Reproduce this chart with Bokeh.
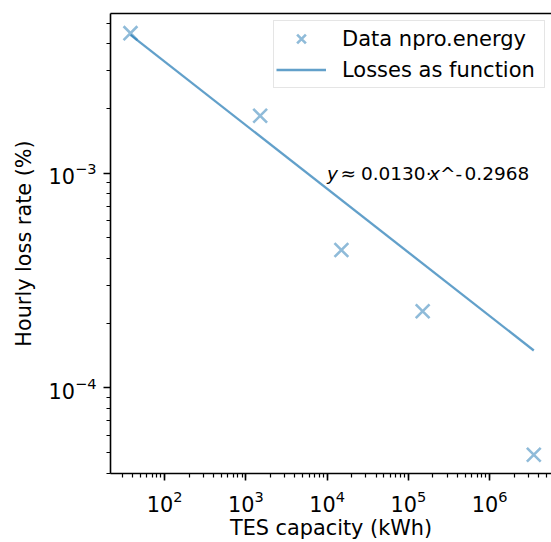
from bokeh.plotting import figure
from bokeh.models import (ColumnDataSource, Range1d, LogAxis, LogTicker, FixedTicker,
                          Label, Legend, LegendItem)
from bokeh.embed import file_html
from bokeh.resources import INLINE

# ---- data ----
capacity_kwh = [38, 1500, 15000, 150000, 3500000]
loss_rate = [4.49e-3, 1.85e-3, 4.38e-4, 2.27e-4, 4.87e-5]

# fitted power law  y ~ 0.0130 * x^-0.2968 (straight line on log-log, end points)
fit_x = [38, 3500000]
fit_y = [4.41e-3, 1.49e-4]

series_labels = ["Data npro.energy", "Losses as function"]
x_title = "TES capacity (kWh)"
y_title = "Hourly loss rate (%)"
fit_text_parts = ["y", "\u2248", "0.0130\u00b7", "x", "^", "-", "0.2968"]

C0 = "#1f77b4"
FONT = "DejaVu Sans"
BLACK = "#000000"

X_LO, X_HI = 1.334, 6.762
Y_LO, Y_HI = -4.400, -2.256

p = figure(width=551, height=542, x_axis_type="log", y_axis_type="log",
           x_range=Range1d(10 ** X_LO, 10 ** X_HI),
           y_range=Range1d(10 ** Y_LO, 10 ** Y_HI),
           output_backend="svg", toolbar_location=None,
           min_border_left=110, min_border_right=0,
           min_border_top=13, min_border_bottom=63)
p.outline_line_color = None
p.grid.visible = False
p.background_fill_color = "white"
p.border_fill_color = "white"

pts = ColumnDataSource(dict(x=capacity_kwh, y=loss_rate))
fit = ColumnDataSource(dict(x=fit_x, y=fit_y))

ln = p.line("x", "y", source=fit, line_color=C0, line_alpha=0.7, line_width=2.3)
sc = p.scatter("x", "y", source=pts, marker="x", size=19.5, line_color=C0,
               line_alpha=0.5, line_width=2.6)

for ax in (p.xaxis[0], p.yaxis[0]):
    ax.ticker = LogTicker(num_minor_ticks=10)
    ax.axis_line_width = 1.6
    ax.axis_line_color = BLACK
    ax.major_tick_line_width = 1.6
    ax.minor_tick_line_width = 1.2
    ax.major_tick_line_color = BLACK
    ax.minor_tick_line_color = BLACK
    ax.major_tick_in = 0
    ax.minor_tick_in = 0
    ax.major_tick_out = 7
    ax.minor_tick_out = 4
    ax.major_label_standoff = 7
    ax.major_label_text_font = FONT
    ax.major_label_text_font_size = "20.8px"
    ax.major_label_text_color = BLACK
    ax.axis_label_text_font = FONT
    ax.axis_label_text_font_size = "20.8px"
    ax.axis_label_text_font_style = "normal"
    ax.axis_label_text_color = BLACK

p.yaxis[0].axis_label = y_title
p.yaxis[0].axis_label_standoff = 10
p.xaxis[0].axis_label = x_title
p.xaxis[0].major_label_standoff = 9
p.xaxis[0].axis_label_standoff = 1

# top spine (no right spine is visible in the reference)
top = LogAxis(ticker=FixedTicker(ticks=[]), axis_line_width=1.6, axis_line_color=BLACK,
              major_tick_out=0, minor_tick_out=0, major_label_standoff=0,
              major_label_text_font_size="0px")
p.add_layout(top, "above")

legend = Legend(items=[LegendItem(label=series_labels[0], renderers=[sc]),
                       LegendItem(label=series_labels[1], renderers=[ln])],
                location=(163, 385),
                label_text_font=FONT, label_text_font_size="21px",
                label_text_color=BLACK,
                glyph_width=50, glyph_height=31, label_height=31, label_width=200,
                label_standoff=16, spacing=0, padding=2, margin=0,
                border_line_color="#cccccc", border_line_width=1.5,
                background_fill_color="white", background_fill_alpha=0.8)
p.add_layout(legend)

offsets = [0, 13.3, 33.8, 102, 113, 128.5, 137.5]
styles = ["italic", "normal", "normal", "italic", "normal", "normal", "normal"]
for txt, off, st in zip(fit_text_parts, offsets, styles):
    p.add_layout(Label(x=1e4, y=1e-3, text=txt, x_offset=off,
                       text_font=FONT, text_font_size="18.5px",
                       text_font_style=st, text_color=BLACK,
                       text_baseline="alphabetic", text_align="left"))

open("out.html", "w").write(file_html(p, INLINE))
